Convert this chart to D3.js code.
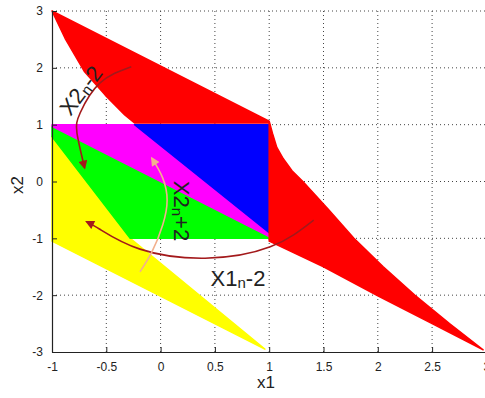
<!DOCTYPE html>
<html>
<head>
<meta charset="utf-8">
<script src="https://cdn.jsdelivr.net/npm/d3@7"></script>
<style>
body { margin: 0; background: #fff; }
text { font-family: Arial, "Liberation Sans", sans-serif; }
</style>
</head>
<body>
<script>
// region outlines, in data units
var redRegion = [[-1,3],[1,1.06],[1.03,0.85],[1.07,0.6],[1.13,0.4],[1.21,0.19],[1.31,0],[1.55,-0.5],[1.78,-1],[2.05,-1.5],
  [2.34,-2],[2.66,-2.5],[2.97,-2.96],[2.5,-2.5],[2,-2.01],[1.5,-1.5],[1,-1.05],[1,1.03],
  [-0.24,1.03],[-0.33,1.17],[-0.51,1.52],[-0.7,1.93],[-0.88,2.52]];
var magentaRegion = [[-1,1],[-0.24,1],[1,-0.9],[1,-0.97],[-1,0.97]];
var blueRegion = [[-0.24,1],[1,1],[1,-0.9]];
var greenRegion = [[-1,0.97],[1,-0.97],[1,-1],[-0.28,-1],[-1,0.79]];
var yellowRegion = [[-1,0.79],[-0.28,-1],[0.96,-2.95],[-1,-1.05]];

var regions = [
  {pts: yellowRegion, color: '#ffff00'},
  {pts: greenRegion, color: '#00ff00'},
  {pts: magentaRegion, color: '#ff00ff'},
  {pts: blueRegion, color: '#0000ff'},
  {pts: redRegion, color: '#ff0000'}
];

// annotation arcs
var arcX1 = [[1.41,-0.68],[1.01,-1.15],[0.41,-1.35],[-0.19,-1.19],[-0.56,-0.84],[-0.68,-0.71]];
var arcX2minus = [[-0.27,2.02],[-0.56,1.73],[-0.74,1.21],[-0.77,0.85],[-0.7,0.24]];
var arcX2plus = [[-0.19,-1.59],[-0.08,-1.24],[0.02,-0.76],[0.06,-0.33],[0.02,0.06],[-0.08,0.41]];

var xTicks = [-1,-0.5,0,0.5,1,1.5,2,2.5,3];
var yTicks = [-3,-2,-1,0,1,2,3];

var width = 485, height = 398;
var svg = d3.select('body').append('svg').attr('width', width).attr('height', height);

var x = d3.scaleLinear().domain([-1,3]).range([52,486.4]);
var y = d3.scaleLinear().domain([-3,3]).range([352,11]);

// grid
svg.selectAll('line.gx')
  .data(xTicks.slice(1))
  .enter().append('line')
    .attr('class','gx')
    .attr('x1', d => x(d)).attr('x2', d => x(d))
    .attr('y1', y(-3)).attr('y2', y(3))
    .attr('stroke','#444').attr('stroke-width',1).attr('stroke-dasharray','1,3');
svg.selectAll('line.gy')
  .data(yTicks.slice(1))
  .enter().append('line')
    .attr('class','gy')
    .attr('x1', x(-1)).attr('x2', x(3))
    .attr('y1', d => y(d)).attr('y2', d => y(d))
    .attr('stroke','#444').attr('stroke-width',1).attr('stroke-dasharray','1,3');

// colored regions
var poly = d3.line().x(d => x(d[0])).y(d => y(d[1]));
svg.selectAll('path.region')
  .data(regions)
  .enter().append('path')
    .attr('class','region')
    .attr('d', d => poly(d.pts) + 'Z')
    .attr('fill', d => d.color)
    .attr('stroke', d => d.color)
    .attr('stroke-width', 1.5)
    .attr('stroke-linejoin','round');

// axes
var xAxis = d3.axisBottom(x).tickValues(xTicks).tickSizeInner(-5).tickSizeOuter(0).tickPadding(10)
  .tickFormat(d => String(d));
var yAxis = d3.axisLeft(y).tickValues(yTicks).tickSizeInner(-5).tickSizeOuter(0).tickPadding(9)
  .tickFormat(d => String(d));

var gx = svg.append('g').attr('transform','translate(0,352)').call(xAxis);
var gy = svg.append('g').attr('transform','translate(52,0)').call(yAxis);
[gx, gy].forEach(g => {
  g.select('.domain').attr('stroke','#222').attr('stroke-width',1.2);
  g.selectAll('.tick line').attr('stroke','#222');
  g.selectAll('.tick text').attr('font-size',12).attr('fill','#222')
    .attr('font-family','Arial, "Liberation Sans", sans-serif');
});

svg.append('text').attr('x',266).attr('y',388).attr('text-anchor','middle')
  .attr('font-size',17).attr('fill','#222').text('x1');
svg.append('text').attr('transform','translate(23,185) rotate(-90)').attr('text-anchor','middle')
  .attr('font-size',17).attr('fill','#222').text('x2');

// arrow markers
var defs = svg.append('defs');
[['dark','#a3191b'],['light','#f2b08e']].forEach(m => {
  defs.append('marker')
    .attr('id','head-' + m[0])
    .attr('viewBox','0 0 10 10').attr('refX',8).attr('refY',5)
    .attr('markerWidth',11).attr('markerHeight',9)
    .attr('markerUnits','userSpaceOnUse')
    .attr('orient','auto')
    .append('path').attr('d','M0,0 L10,5 L0,10 Z').attr('fill', m[1]);
});

var curve = d3.line().x(d => x(d[0])).y(d => y(d[1])).curve(d3.curveNatural);
var arrows = [
  {pts: arcX1, color: '#a3191b', head: 'dark'},
  {pts: arcX2minus, color: '#a3191b', head: 'dark'},
  {pts: arcX2plus, color: '#f2b08e', head: 'light'}
];
svg.selectAll('path.arrow')
  .data(arrows)
  .enter().append('path')
    .attr('class','arrow')
    .attr('d', d => curve(d.pts))
    .attr('fill','none')
    .attr('stroke', d => d.color)
    .attr('stroke-width',1.6)
    .attr('marker-end', d => 'url(#head-' + d.head + ')');

// labels on the arrows
function label(t, base, sub, tail) {
  t.append('tspan').text(base);
  t.append('tspan').attr('font-size',15).attr('dy',2).text(sub);
  t.append('tspan').attr('dy',-2).text(tail);
}
label(svg.append('text').attr('transform','translate(87,95) rotate(-53)').attr('text-anchor','middle')
  .attr('font-size',22).attr('fill','#222'), 'X2', 'n', '-2');
label(svg.append('text').attr('transform','translate(174,211) rotate(90)').attr('text-anchor','middle')
  .attr('font-size',22).attr('fill','#222'), 'X2', 'n', '+2');
label(svg.append('text').attr('x',238).attr('y',286).attr('text-anchor','middle')
  .attr('font-size',22).attr('fill','#222'), 'X1', 'n', '-2');
</script>
</body>
</html>
